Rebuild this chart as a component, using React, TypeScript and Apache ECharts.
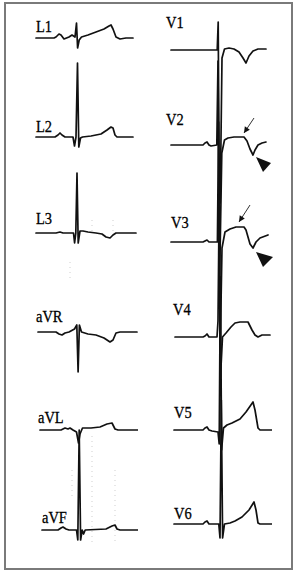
import React, { useEffect, useRef } from "react";
import * as echarts from "echarts";

// Lead names (left column: limb leads, right column: precordial leads)
const limbLeads = ["L1", "L2", "L3", "aVR", "aVL", "aVF"];
const chestLeads = ["V1", "V2", "V3", "V4", "V5", "V6"];

// Waveforms: [time in ms, amplitude in mV]
const L1: number[][] = [[0,0],[180,0],[200,0.05],[230,0.2],[250,0.15],[280,-0.05],[330,0.05],[360,0.15],[390,0.05],[405,0.75],[416,-0.5],[432,-0.1],[455,0.05],[520,0.15],[600,0.3],[680,0.45],[730,0.6],[750,0.65],[770,0.45],[800,0.05],[840,-0.05],[900,0],[970,0]];
const L2: number[][] = [[0,0],[190,0],[220,0.1],[240,0.2],[260,0.1],[290,0],[370,0],[385,-0.45],[400,0],[415,3.7],[428,-0.5],[445,-0.05],[465,0],[550,0.05],[650,0.15],[710,0.35],[750,0.5],[770,0.45],[790,0.1],[810,0],[970,0]];
const L3: number[][] = [[0,0],[200,0],[240,0.05],[270,0],[375,0],[386,-0.5],[398,0],[410,3.0],[422,-0.5],[440,0.1],[470,0.1],[520,0.05],[600,0],[660,-0.05],[700,-0.2],[740,-0.25],[770,-0.1],[800,0],[1000,0]];
const aVR: number[][] = [[20,0],[200,0],[230,-0.1],[260,-0.15],[290,-0.05],[330,0],[385,0.15],[408,0.35],[421,-2.0],[434,0.35],[455,0],[520,-0.1],[600,-0.15],[680,-0.3],[740,-0.5],[770,-0.4],[800,-0.05],[840,0],[1010,0]];
const aVL: number[][] = [[40,0],[250,0],[290,0.1],[320,0.05],[340,0.1],[370,0],[405,-0.1],[425,-0.65],[440,-0.2],[465,0.1],[550,0.1],[640,0.15],[710,0.3],[760,0.35],[790,0.05],[820,0],[1020,0]];
const aVF: number[][] = [[60,0],[220,0],[250,0.1],[270,0.15],[300,0.05],[330,0],[405,0],[418,-0.5],[432,5.0],[446,-0.5],[462,0],[476,-0.2],[492,0],[700,0.05],[760,0.2],[790,0.25],[810,0.05],[840,0],[1040,0]];
const V1: number[][] = [[10,0],[472,0],[482,1.4],[496,-10],[520,-0.4],[545,0.05],[590,0.1],[640,0.05],[690,-0.1],[730,-0.4],[760,-0.65],[790,-0.3],[830,-0.05],[880,0.05],[960,0.05]];
const V2: number[][] = [[10,0],[330,0],[350,0.1],[370,0.15],[390,0],[410,-0.05],[468,0],[480,4.2],[494,-7.3],[518,-0.4],[545,0.25],[580,0.35],[640,0.4],[740,0.4],[770,0.2],[800,-0.2],[830,-0.5],[850,-0.25],[880,0],[920,0.1],[960,0.15]];
const V3: number[][] = [[10,0],[330,0],[350,0.05],[370,0.1],[390,0],[474,0],[486,6],[500,-6],[520,-0.3],[550,0.5],[600,0.65],[660,0.75],[740,0.75],[760,0.6],[800,-0.1],[830,-0.3],[860,0],[900,0.2],[980,0.35]];
const V4: number[][] = [[50,0],[330,0],[350,0.05],[370,0.15],[390,0],[470,0],[480,0.8],[492,6.8],[505,-2],[525,0],[560,0.2],[610,0.5],[650,0.7],[700,0.75],[780,0.75],[820,0.35],[850,0.1],[880,0],[920,0.1],[1000,0.1]];
const V5: number[][] = [[40,0],[330,0],[350,0.1],[370,0.15],[390,0],[420,-0.05],[480,-0.1],[492,-0.7],[504,8],[516,-1.0],[535,0.1],[570,0.25],[620,0.35],[700,0.55],[760,0.9],[830,1.4],[850,1.0],[880,0.1],[900,0],[1030,0]];
const V6: number[][] = [[40,0],[330,0],[350,0.1],[370,0.15],[390,0],[488,0],[500,-0.7],[513,6.2],[526,-0.7],[545,0],[600,0.05],[650,0.15],[720,0.35],[790,0.7],[840,1.1],[860,0.7],[880,0.05],[900,0],[1050,0]];

const limbData = [L1, L2, L3, aVR, aVL, aVF];
const chestData = [V1, V2, V3, V4, V5, V6];

// Layout (pixels)
const limbBaselines = [38, 137, 233, 332, 430, 530];
const chestBaselines = [50, 145, 242, 337, 430, 524];
const limbLabelPos = [[36, 26], [36, 126], [36, 218], [36, 316], [38, 417], [42, 517]];
const chestLabelPos = [[166, 22], [166, 119], [171, 222], [173, 309], [174, 412], [174, 513]];

// faint scan artifacts (dotted verticals): [x, y1, y2]
const artifacts = [[92, 436, 545], [115, 470, 545], [72, 470, 500], [92, 220, 234], [113, 220, 234], [70, 262, 282]];

export default function App() {
  const ref = useRef<HTMLDivElement>(null);
  useEffect(() => {
    if (!ref.current) return;
    const chart = echarts.init(ref.current, undefined, { renderer: "svg" });
    const grids: any[] = [];
    const xAxes: any[] = [];
    const yAxes: any[] = [];
    const series: any[] = [];
    const graphics: any[] = [];

    graphics.push({
      type: "rect",
      shape: { x: 5, y: 3, width: 287, height: 566 },
      style: { fill: "none", stroke: "#7a7a7a", lineWidth: 2 },
    });
    artifacts.forEach((a) => {
      graphics.push({
        type: "line",
        shape: { x1: a[0], y1: a[1], x2: a[0], y2: a[2] },
        style: { stroke: "#cfcfcf", lineWidth: 1, lineDash: [1, 4] },
      });
    });

    const add = (names: string[], data: number[][][], baselines: number[], left: number, labels: number[][]) => {
      names.forEach((name, i) => {
        const idx = grids.length;
        grids.push({ left, top: baselines[i] - 50, width: 100, height: 100, outerBoundsMode: "none" });
        xAxes.push({ type: "value", gridIndex: idx, min: 0, max: 1000, show: false });
        yAxes.push({ type: "value", gridIndex: idx, min: -2.5, max: 2.5, show: false });
        series.push({
          type: "line",
          name,
          xAxisIndex: idx,
          yAxisIndex: idx,
          data: data[i],
          symbol: "none",
          clip: false,
          silent: true,
          lineStyle: { color: "#111", width: 1.7, join: "round", cap: "round" },
        });
        graphics.push({
          type: "text",
          x: labels[i][0],
          y: labels[i][1],
          scaleX: 0.85,
          style: {
            text: name,
            font: "17px 'Liberation Serif', 'DejaVu Serif', serif",
            fill: "#000",
            stroke: "#000",
            lineWidth: 0.3,
            verticalAlign: "middle",
          },
        });
      });
    };
    add(limbLeads, limbData, limbBaselines, 36, limbLabelPos);
    add(chestLeads, chestData, chestBaselines, 170, chestLabelPos);

    // annotation arrows (V2, V3)
    const arrows = [
      { from: [254, 118], to: [244, 133], tri: [[256, 157], [271, 163], [263, 172]] },
      { from: [250, 205], to: [239, 222], tri: [[256, 252], [273, 257], [263, 267]] },
    ];
    arrows.forEach((a) => {
      graphics.push({
        type: "line",
        shape: { x1: a.from[0], y1: a.from[1], x2: a.to[0], y2: a.to[1] },
        style: { stroke: "#333", lineWidth: 1 },
      });
      const dx = a.to[0] - a.from[0];
      const dy = a.to[1] - a.from[1];
      const len = Math.hypot(dx, dy);
      const ux = dx / len, uy = dy / len;
      const bx = a.to[0] - ux * 6, by = a.to[1] - uy * 6;
      graphics.push({
        type: "polygon",
        shape: { points: [a.to, [bx - uy * 3, by + ux * 3], [bx + uy * 3, by - ux * 3]] },
        style: { fill: "#111" },
      });
      graphics.push({
        type: "polygon",
        shape: { points: a.tri },
        style: { fill: "#111" },
      });
    });

    chart.setOption({
      animation: false,
      backgroundColor: "#fff",
      grid: grids,
      xAxis: xAxes,
      yAxis: yAxes,
      series,
      graphic: { elements: graphics },
    });
    return () => chart.dispose();
  }, []);
  return (
    <div
      ref={ref}
      style={{ position: "fixed", left: 0, top: 0, width: 296, height: 576, background: "#fff" }}
    />
  );
}
